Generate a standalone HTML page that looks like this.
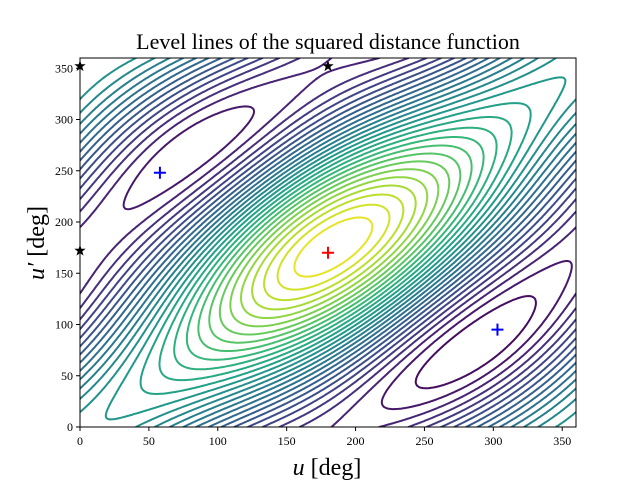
<!DOCTYPE html>
<html><head><meta charset="utf-8">
<style>
body{margin:0;background:#fff;}
svg text{font-family:"Liberation Serif","DejaVu Serif",serif;}
</style></head>
<body>
<svg id="chart" width="640" height="480" xmlns="http://www.w3.org/2000/svg">
<rect width="640" height="480" fill="#fff"/>
<text x="328" y="49" font-size="22" text-anchor="middle">Level lines of the squared distance function</text>
<defs><clipPath id="clip"><rect x="80" y="58" width="496" height="369"/></clipPath></defs>
<g id="contours" clip-path="url(#clip)"></g>
<g id="markers"></g>
<rect x="80" y="58" width="496" height="369" fill="none" stroke="#000" stroke-width="1"/>
<g id="xticks"></g>
<g id="yticks"></g>
<text x="327" y="475" font-size="24" text-anchor="middle"><tspan font-style="italic">u</tspan> [deg]</text>
<text transform="translate(44,243) rotate(-90)" font-size="24" text-anchor="middle"><tspan font-style="italic">u′</tspan> [deg]</text>
</svg>
<script>
const xTicks=[0,50,100,150,200,250,300,350];
const yTicks=[0,50,100,150,200,250,300,350];
const stars=[[0,352],[0,172],[180,352]];
const blueCrosses=[[58,248],[303,95]];
const redCrosses=[[180,170]];
const funcParams=[1.0,0.42,1.0,0.38,2.3,10];
const levelCount=[30];

const NS="http://www.w3.org/2000/svg";
const X0=80,X1=576,Y0=427,Y1=58;
const sx=v=>X0+(v/360)*(X1-X0);
const sy=v=>Y0-(v/360)*(Y0-Y1);
const rad=Math.PI/180;
function f(u,v){
  const [A,e1,B,e2,C,d]=funcParams;
  const a=1-e1*Math.cos(u*rad), b=1-e2*Math.cos(v*rad);
  return A*a*a+B*b*b+C*Math.cos((u-v-d)*rad);
}
const vir=[[68,1,84],[72,40,120],[62,74,137],[49,104,142],[38,130,142],[31,158,137],[53,183,121],[109,205,89],[180,222,44],[253,231,37]];
function cmap(t){t=Math.max(0,Math.min(1,t))*9;const i=Math.min(8,Math.floor(t)),r=t-i;
  const c=vir[i].map((x,k)=>Math.round(x+(vir[i+1][k]-x)*r));return `rgb(${c})`;}
const N=240,step=360/N,G=[];
let mn=1e9,mx=-1e9;
for(let i=0;i<=N;i++){G.push([]);for(let j=0;j<=N;j++){const z=f(i*step,j*step);G[i].push(z);mn=Math.min(mn,z);mx=Math.max(mx,z);}}
const g=document.getElementById('contours');
const L=levelCount[0];
for(let k=1;k<L;k++){
  const lv=mn+(mx-mn)*k/L;let d="";
  const ip=(a,b,za,zb)=>a+(b-a)*(lv-za)/(zb-za);
  for(let i=0;i<N;i++)for(let j=0;j<N;j++){
    const z00=G[i][j],z10=G[i+1][j],z11=G[i+1][j+1],z01=G[i][j+1];
    const u0=i*step,u1=(i+1)*step,v0=j*step,v1=(j+1)*step;
    const pts=[];
    if((z00<lv)!==(z10<lv))pts.push([ip(u0,u1,z00,z10),v0]);
    if((z10<lv)!==(z11<lv))pts.push([u1,ip(v0,v1,z10,z11)]);
    if((z11<lv)!==(z01<lv))pts.push([ip(u1,u0,z11,z01),v1]);
    if((z01<lv)!==(z00<lv))pts.push([u0,ip(v1,v0,z01,z00)]);
    for(let p=0;p+1<pts.length;p+=2)
      d+=`M${sx(pts[p][0]).toFixed(1)} ${sy(pts[p][1]).toFixed(1)}L${sx(pts[p+1][0]).toFixed(1)} ${sy(pts[p+1][1]).toFixed(1)}`;
  }
  const path=document.createElementNS(NS,'path');
  
  
  path.setAttribute('d',d);path.setAttribute('stroke',cmap(k/L));
  path.setAttribute('stroke-width','2');path.setAttribute('fill','none');
  path.setAttribute('stroke-linecap','round');
  g.appendChild(path);
}
const m=document.getElementById('markers');
function star(cx,cy,r){let p="";for(let i=0;i<10;i++){const a=-Math.PI/2+i*Math.PI/5,rr=i%2?r*0.4:r;p+=(i?"L":"M")+(cx+rr*Math.cos(a)).toFixed(1)+" "+(cy+rr*Math.sin(a)).toFixed(1);}return p+"Z";}
stars.forEach(s=>{const p=document.createElementNS(NS,'path');
  
  
  p.setAttribute('d',star(sx(s[0]),sy(s[1]),6));p.setAttribute('fill','#000');m.appendChild(p);});
function cross(pt,col,name){const p=document.createElementNS(NS,'path');
  
  
  const x=sx(pt[0]),y=sy(pt[1]);
  p.setAttribute('d',`M${x-6} ${y}H${x+6}M${x} ${y-6}V${y+6}`);p.setAttribute('stroke',col);p.setAttribute('stroke-width','2');m.appendChild(p);}
blueCrosses.forEach(c=>cross(c,'#0000ff','minimum-cross'));
redCrosses.forEach(c=>cross(c,'#ff0000','maximum-cross'));
const xt=document.getElementById('xticks');
xTicks.forEach(t=>{const x=sx(t);
  const l=document.createElementNS(NS,'line');
  
  
  l.setAttribute('x1',x);l.setAttribute('x2',x);l.setAttribute('y1',Y0);l.setAttribute('y2',Y0+4);l.setAttribute('stroke','#000');xt.appendChild(l);
  const tx=document.createElementNS(NS,'text');
  
  
  tx.setAttribute('x',x);tx.setAttribute('y',Y0+18);tx.setAttribute('font-size','12');tx.setAttribute('text-anchor','middle');tx.textContent=t;xt.appendChild(tx);});
const yt=document.getElementById('yticks');
yTicks.forEach(t=>{const y=sy(t);
  const l=document.createElementNS(NS,'line');
  
  
  l.setAttribute('x1',X0-4);l.setAttribute('x2',X0);l.setAttribute('y1',y);l.setAttribute('y2',y);l.setAttribute('stroke','#000');yt.appendChild(l);
  const tx=document.createElementNS(NS,'text');
  
  
  tx.setAttribute('x',X0-7);tx.setAttribute('y',y+4);tx.setAttribute('font-size','12');tx.setAttribute('text-anchor','end');tx.textContent=t;yt.appendChild(tx);});
</script>
</body></html>
